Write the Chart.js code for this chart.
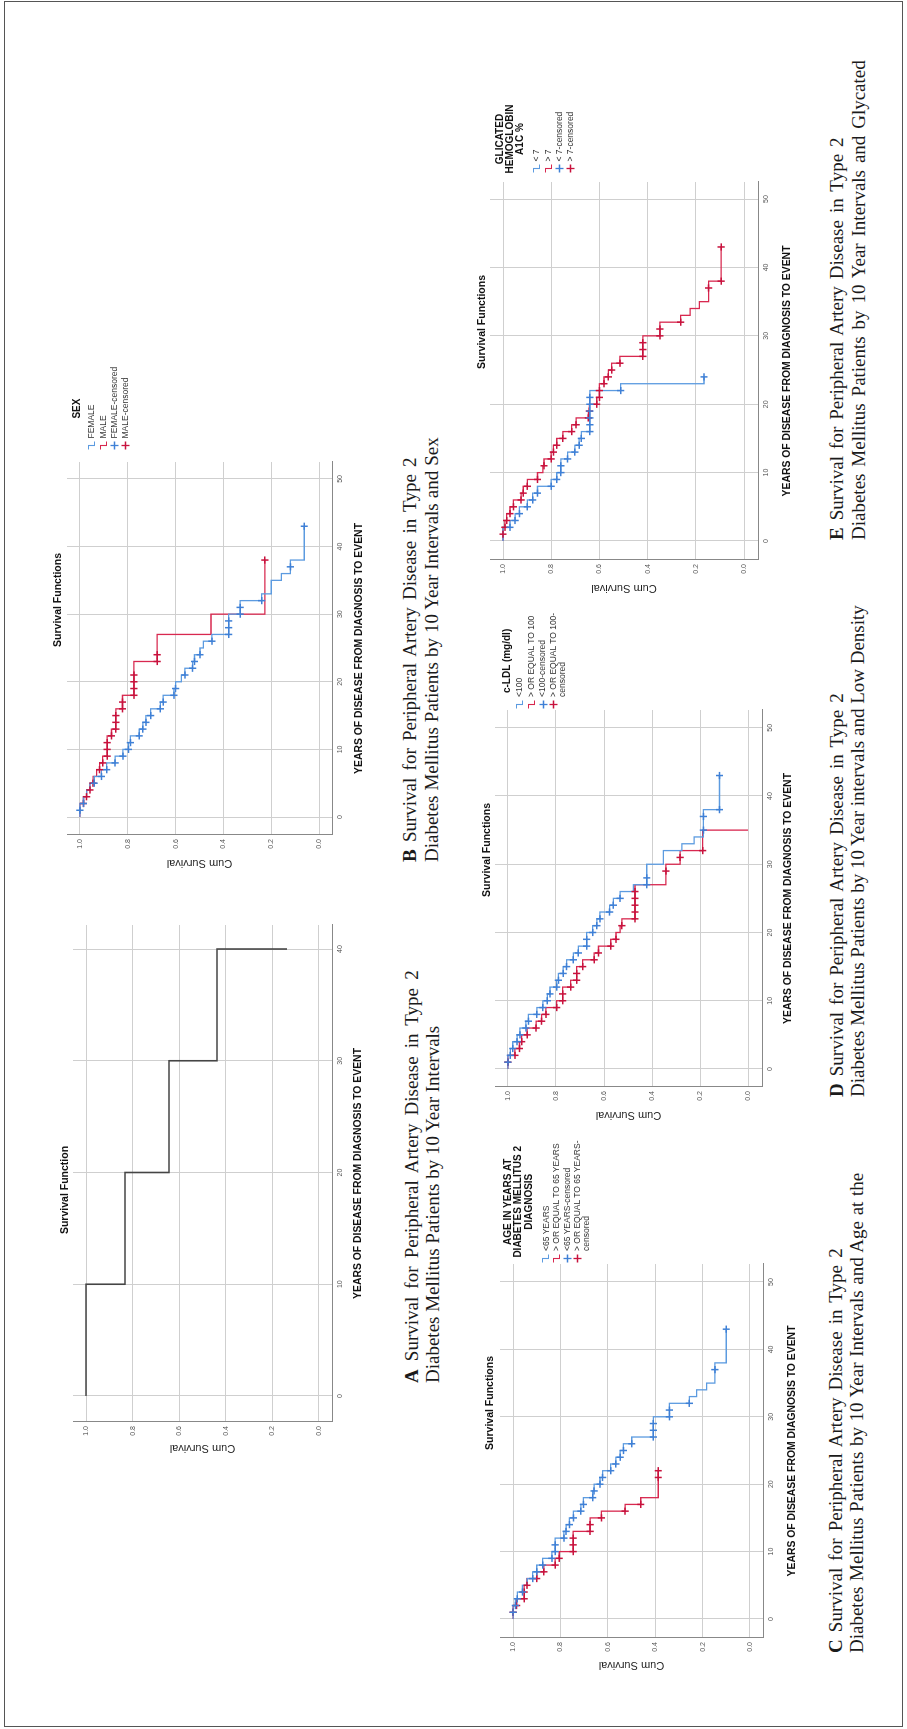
<!DOCTYPE html>
<html>
<head>
<meta charset="utf-8">
<title>Survival for Peripheral Artery Disease in Type 2 Diabetes Mellitus</title>
<script src="https://cdn.jsdelivr.net/npm/chart.js@4.4.1/dist/chart.umd.min.js"></script>
<style>
  html, body { margin: 0; padding: 0; background: #fff; }
  body { width: 907px; height: 1729px; overflow: hidden; position: relative; }
  /* the page is laid out landscape and turned a quarter to the left */
  .page {
    position: absolute; left: 0; top: 0; width: 1729px; height: 907px;
    transform-origin: 0 0; transform: translateY(1729px) rotate(-90deg);
    background: #fff;
  }
  .frame {
    position: absolute; left: 2px; top: 4px; width: 1726px; height: 899px;
    box-sizing: border-box; border: 1.5px solid #555;
  }
  .page canvas { position: absolute; }
  .legend {
    position: absolute; display: inline-block;
    font-family: "Liberation Sans", Arial, sans-serif; color: #333;
  }
  .legend-title { font-weight: bold; font-size: 10px; line-height: 10.5px; text-align: center; color: #111; white-space: nowrap; }
  .legend-row { display: flex; align-items: flex-start; font-size: 8.5px; white-space: nowrap; }
  .legend-row svg { flex: none; margin-right: 3px; }
  .caption {
    position: absolute; white-space: nowrap;
    font: 19px/22px "Liberation Serif", "Times New Roman", serif; color: #1b1b1b;
  }
</style>
</head>
<body>
<div class="page" id="page"><div class="frame"></div></div>

<script>
// ---------- data ----------
const yearTicks = [0, 10, 20, 30, 40, 50];
const yearTicksAll = [0, 10, 20, 30, 40];
const survTicks = [0, 0.2, 0.4, 0.6, 0.8, 1.0];

// A: all patients
const allTimes = [0, 10, 20, 30, 40];
const allSurv = [1, 0.833, 0.644, 0.438, 0.137];

// B: sex
const femaleTimes = [0, 2, 3, 4, 5, 6, 7, 8, 9, 10, 11, 12, 13, 14, 15, 16, 17, 18, 19, 20, 21, 22, 23, 24, 25, 26, 27, 30, 32, 33, 35, 36, 38, 43];
const femaleSurv = [1, 0.985, 0.972, 0.958, 0.94, 0.91, 0.888, 0.853, 0.82, 0.797, 0.789, 0.752, 0.737, 0.724, 0.704, 0.664, 0.652, 0.607, 0.6, 0.576, 0.561, 0.529, 0.521, 0.498, 0.484, 0.448, 0.378, 0.33, 0.24, 0.2, 0.158, 0.12, 0.062, 0.062];
const femaleCensored = [1, 2, 5, 6, 7, 8, 9, 10, 11, 12, 13, 14, 15, 16, 17, 18, 19, 21, 22, 23, 24, 26, 27, 28, 29, 30, 31, 32, 37, 43];
const maleTimes = [0, 2, 3, 4, 5, 6, 7, 8, 9, 12, 13, 16, 18, 23, 27, 30, 38];
const maleSurv = [1, 0.985, 0.972, 0.958, 0.945, 0.93, 0.918, 0.905, 0.886, 0.868, 0.85, 0.822, 0.774, 0.677, 0.452, 0.227, 0.227];
const maleCensored = [2, 3, 4, 5, 7, 8, 9, 10, 11, 12, 13, 14, 15, 16, 17, 18, 19, 20, 21, 23, 24, 38];

// C: age at diagnosis
const under65Times = [0, 2, 3, 4, 5, 6, 7, 8, 9, 10, 12, 13, 14, 15, 16, 17, 18, 19, 20, 21, 22, 23, 24, 25, 26, 27, 30, 32, 33, 34, 35, 38, 43];
const under65Surv = [1, 0.99, 0.982, 0.96, 0.94, 0.917, 0.9, 0.875, 0.836, 0.822, 0.785, 0.776, 0.762, 0.745, 0.714, 0.703, 0.664, 0.658, 0.633, 0.622, 0.588, 0.566, 0.548, 0.534, 0.499, 0.408, 0.34, 0.256, 0.225, 0.183, 0.148, 0.1, 0.1];
const under65Censored = [1, 2, 3, 4, 6, 7, 8, 9, 10, 11, 12, 13, 14, 15, 16, 17, 18, 19, 20, 21, 22, 23, 24, 25, 26, 27, 28, 29, 30, 31, 32, 37, 43];
const over65Times = [0, 2, 3, 5, 6, 7, 8, 9, 10, 13, 15, 16, 17, 18, 22];
const over65Surv = [1, 0.985, 0.953, 0.941, 0.9, 0.87, 0.822, 0.805, 0.746, 0.675, 0.627, 0.527, 0.461, 0.387, 0.387];
const over65Censored = [1, 2, 3, 4, 5, 6, 7, 8, 9, 10, 11, 12, 13, 14, 15, 16, 17, 21, 22];

// D: c-LDL
const ldlLowTimes = [0, 2, 3, 4, 5, 6, 7, 8, 9, 10, 11, 12, 13, 14, 15, 16, 17, 18, 20, 21, 22, 23, 24, 25, 26, 27, 30, 32, 33, 34, 38, 43];
const ldlLowSurv = [1, 0.99, 0.98, 0.962, 0.95, 0.925, 0.915, 0.88, 0.855, 0.836, 0.825, 0.797, 0.79, 0.77, 0.756, 0.728, 0.707, 0.672, 0.647, 0.63, 0.617, 0.577, 0.561, 0.533, 0.478, 0.422, 0.353, 0.276, 0.225, 0.186, 0.119, 0.119];
const ldlLowCensored = [1, 2, 3, 4, 5, 6, 7, 8, 9, 10, 11, 12, 13, 14, 15, 16, 17, 18, 19, 20, 21, 22, 23, 24, 25, 27, 28, 35, 37, 38, 43];
const ldlHighTimes = [0, 2, 3, 4, 5, 6, 7, 8, 9, 10, 12, 13, 15, 16, 17, 18, 19, 20, 21, 22, 27, 30, 32, 35];
const ldlHighSurv = [1, 0.971, 0.952, 0.943, 0.92, 0.883, 0.86, 0.842, 0.797, 0.772, 0.739, 0.714, 0.689, 0.641, 0.623, 0.572, 0.55, 0.533, 0.526, 0.471, 0.342, 0.283, 0.189, 0];
const ldlHighCensored = [1, 2, 3, 4, 5, 6, 7, 8, 9, 10, 11, 12, 13, 14, 15, 16, 17, 18, 19, 21, 22, 23, 24, 25, 26, 29, 31, 32];

// E: glycated hemoglobin
const a1cLowTimes = [0, 2, 3, 4, 5, 6, 7, 8, 9, 10, 12, 13, 14, 15, 16, 22, 23, 24];
const a1cLowSurv = [1, 0.971, 0.95, 0.932, 0.899, 0.877, 0.857, 0.8, 0.777, 0.76, 0.732, 0.702, 0.684, 0.675, 0.64, 0.512, 0.166, 0.166];
const a1cLowCensored = [2, 3, 4, 5, 6, 7, 8, 9, 10, 11, 12, 13, 14, 15, 16, 17, 18, 19, 20, 21, 22, 24];
const a1cHighTimes = [0, 2, 3, 4, 5, 6, 7, 8, 9, 10, 11, 12, 13, 14, 15, 16, 17, 18, 19, 20, 21, 23, 24, 25, 26, 27, 30, 32, 33, 34, 35, 38, 43];
const a1cHighSurv = [1, 0.992, 0.985, 0.971, 0.957, 0.925, 0.916, 0.899, 0.857, 0.835, 0.83, 0.8, 0.791, 0.777, 0.752, 0.715, 0.697, 0.646, 0.642, 0.611, 0.6, 0.581, 0.563, 0.549, 0.515, 0.42, 0.349, 0.263, 0.224, 0.185, 0.147, 0.095, 0.095];
const a1cHighCensored = [1, 2, 3, 4, 5, 6, 7, 8, 9, 11, 12, 13, 14, 15, 16, 17, 18, 19, 20, 21, 22, 23, 24, 25, 26, 27, 28, 29, 30, 31, 32, 37, 38, 43];

// ---------- styling ----------
const BLUE = "#5c9be0";
const BLUE_MARK = "#3f80d6";
const RED = "#d8284f";
const RED_MARK = "#c8123d";
const BLACK_LINE = "#454545";
const GRID = "#cfcfcf";
const AXIS = "#888888";

Chart.defaults.font.family = '"Liberation Sans", Arial, sans-serif';
Chart.defaults.color = "#333";

document.addEventListener("DOMContentLoaded", () => {
  const page = document.getElementById("page");
  buildPanels(page);
  buildLegends(page);
  buildCaptions(page);
});

// Kaplan-Meier helpers
function stepPoints(times, surv) {
  return times.map((t, i) => ({ x: t, y: surv[i] }));
}

function survivalAt(times, surv, t) {
  let s = surv[0];
  times.forEach((time, i) => {
    if (time <= t) s = surv[i];
  });
  return s;
}

function kmLine(times, surv, color, width) {
  return {
    type: "line",
    order: 1,
    data: stepPoints(times, surv),
    borderColor: color,
    borderWidth: width || 1.3,
    pointRadius: 0,
    stepped: "before",
    fill: false,
    tension: 0,
  };
}

function censorMarks(censored, times, surv, color) {
  return {
    type: "scatter",
    order: 0,
    data: censored.map((t) => ({ x: t, y: survivalAt(times, surv, t) })),
    borderColor: color,
    backgroundColor: color,
    pointStyle: "cross",
    pointRadius: 3.6,
    pointBorderWidth: 1.5,
    showLine: false,
  };
}

function buildPanels(page) {
  const panels = [
    {
      box: { x: 272, y: 55, w: 534, h: 311 }, yAxisW: 35, xAxisH: 34, spacerW: 2, titleGap: 1.7, yTitlePad: 2.4,
      xMin: -2.33, xMax: 42.15, yMin: -0.056, yMax: 1.056, xTicks: yearTicksAll, title: "Survival Function",
      datasets: [kmLine(allTimes, allSurv, BLACK_LINE, 1.6)],
    },
    {
      box: { x: 856, y: 48, w: 546, h: 319 }, yAxisW: 38, xAxisH: 35, spacerW: 135, titleGap: 2.7, yTitlePad: 3.4,
      xMin: -2.66, xMax: 52.5, yMin: -0.054, yMax: 1.054, xTicks: yearTicks, title: "Survival Functions",
      datasets: [
        censorMarks(femaleCensored, femaleTimes, femaleSurv, BLUE_MARK),
        censorMarks(maleCensored, maleTimes, maleSurv, RED_MARK),
        kmLine(femaleTimes, femaleSurv, BLUE),
        kmLine(maleTimes, maleSurv, RED),
      ],
    },
    {
      box: { x: 54, y: 480, w: 544, h: 320 }, yAxisW: 37, xAxisH: 37, spacerW: 133, titleGap: 3.7, yTitlePad: 3.4,
      xMin: -2.82, xMax: 52.67, yMin: -0.055, yMax: 1.055, xTicks: yearTicks, title: "Survival Functions",
      datasets: [
        censorMarks(under65Censored, under65Times, under65Surv, BLUE_MARK),
        censorMarks(over65Censored, over65Times, over65Surv, RED_MARK),
        kmLine(under65Times, under65Surv, BLUE),
        kmLine(over65Times, over65Surv, RED),
      ],
    },
    {
      box: { x: 604, y: 477, w: 550, h: 319 }, yAxisW: 38, xAxisH: 34, spacerW: 135, titleGap: 1.7, yTitlePad: 3.4,
      xMin: -2.64, xMax: 52.6, yMin: -0.058, yMax: 1.054, xTicks: yearTicks, title: "Survival Functions",
      datasets: [
        censorMarks(ldlLowCensored, ldlLowTimes, ldlLowSurv, BLUE_MARK),
        censorMarks(ldlHighCensored, ldlHighTimes, ldlHighSurv, RED_MARK),
        kmLine(ldlLowTimes, ldlLowSurv, BLUE),
        kmLine(ldlHighTimes, ldlHighSurv, RED),
      ],
    },
    {
      box: { x: 1131, y: 472, w: 552, h: 323 }, yAxisW: 38, xAxisH: 37, spacerW: 136, titleGap: 1.7, yTitlePad: 3.4,
      xMin: -2.78, xMax: 52.5, yMin: -0.058, yMax: 1.054, xTicks: yearTicks, title: "Survival Functions",
      datasets: [
        censorMarks(a1cLowCensored, a1cLowTimes, a1cLowSurv, BLUE_MARK),
        censorMarks(a1cHighCensored, a1cHighTimes, a1cHighSurv, RED_MARK),
        kmLine(a1cLowTimes, a1cLowSurv, BLUE),
        kmLine(a1cHighTimes, a1cHighSurv, RED),
      ],
    },
  ];

  panels.forEach((p) => {
    const canvas = document.createElement("canvas");
    canvas.width = p.box.w;
    canvas.height = p.box.h;
    canvas.style.left = p.box.x + "px";
    canvas.style.top = p.box.y + "px";
    canvas.style.width = p.box.w + "px";
    canvas.style.height = p.box.h + "px";
    page.appendChild(canvas);

    new Chart(canvas, {
      type: "line",
      data: { datasets: p.datasets },
      options: {
        responsive: false,
        animation: false,
        devicePixelRatio: 1,
        events: [],
        layout: { padding: 0 },
        plugins: {
          legend: { display: false },
          tooltip: { enabled: false },
          title: {
            display: true,
            text: p.title,
            color: "#111",
            font: { size: 10.5, weight: "bold" },
            padding: { top: 3.7, bottom: p.titleGap },
          },
        },
        scales: {
          x: {
            type: "linear",
            min: p.xMin,
            max: p.xMax,
            afterBuildTicks: (axis) => { axis.ticks = p.xTicks.map((v) => ({ value: v })); },
            afterFit: (axis) => { axis.height = p.xAxisH; },
            grid: { color: GRID, lineWidth: 1, drawTicks: false },
            border: { color: AXIS, width: 1 },
            ticks: { autoSkip: false, maxRotation: 0, padding: 3.5, font: { size: 7 }, color: "#555" },
            title: {
              display: true,
              text: "YEARS OF DISEASE FROM DIAGNOSIS TO EVENT",
              color: "#111",
              font: { size: 10.4, weight: "bold" },
              padding: { top: 0, bottom: 2 },
            },
          },
          y: {
            type: "linear",
            position: "left",
            min: p.yMin,
            max: p.yMax,
            afterBuildTicks: (axis) => { axis.ticks = survTicks.map((v) => ({ value: v })); },
            afterFit: (axis) => { axis.width = p.yAxisW; },
            grid: { color: GRID, lineWidth: 1, drawTicks: false },
            border: { color: AXIS, width: 1 },
            ticks: { padding: 4, font: { size: 7 }, color: "#555", callback: (v) => v.toFixed(1) },
            title: {
              display: true,
              text: "Cum Survival",
              color: "#222",
              font: { size: 11 },
              padding: { top: p.yTitlePad, bottom: 0 },
            },
          },
          // empty box on the right that keeps room for the legend
          spacer: {
            type: "linear",
            position: "right",
            afterFit: (axis) => { axis.width = p.spacerW; },
            grid: { display: false, drawTicks: false },
            border: { display: false },
            ticks: { display: false },
          },
        },
      },
    });
  });
}

function glyph(kind, color) {
  const path = kind === "line" ? "M0.5 1.5 H4.5 V7.5 H8.5" : "M4.5 0.5 V8.5 M0.5 4.5 H8.5";
  const width = kind === "line" ? 1.1 : 1.3;
  return '<svg width="9" height="9" viewBox="0 0 9 9"><path d="' + path + '" fill="none" stroke="' + color +
    '" stroke-width="' + width + '"/></svg>';
}

function buildLegends(page) {
  const legends = [
    {
      x: 1278.5, top: 71.75, gap: 4.1, rowH: 11.3, title: ["SEX"],
      items: [["FEMALE"], ["MALE"], ["FEMALE-censored"], ["MALE-censored"]],
    },
    {
      x: 466, top: 502.75, gap: 6.35, rowH: 10.8, title: ["AGE IN YEARS AT", "DIABETES MELLITUS 2", "DIAGNOSIS"],
      items: [["<65 YEARS"], ["> OR EQUAL TO 65 YEARS"], ["<65 YEARS-censored"], ["> OR EQUAL TO 65 YEARS-", "censored"]],
    },
    {
      x: 1020, top: 501.75, gap: 1.95, rowH: 11.6, title: ["c-LDL (mg/dl)"],
      items: [["<100"], ["> OR EQUAL TO 100"], ["<100-censored"], ["> OR EQUAL TO 100-", "censored"]],
    },
    {
      x: 1555.5, top: 495, gap: 6.35, rowH: 11.3, titleLH: 10, title: ["GLICATED", "HEMOGLOBIN", "A1C %"],
      items: [["< 7"], ["> 7"], ["< 7-censored"], ["> 7-censored"]],
    },
  ];
  const kinds = [["line", BLUE], ["line", RED], ["cross", BLUE_MARK], ["cross", RED_MARK]];

  legends.forEach((lg) => {
    const box = document.createElement("div");
    box.className = "legend";
    box.style.left = lg.x + "px";
    box.style.top = lg.top + "px";

    const title = document.createElement("div");
    title.className = "legend-title";
    if (lg.titleLH) title.style.lineHeight = lg.titleLH + "px";
    title.innerHTML = lg.title.join("<br>");
    box.appendChild(title);

    lg.items.forEach((lines, i) => {
      const row = document.createElement("div");
      row.className = "legend-row";
      row.style.lineHeight = (lines.length > 1 ? 9.5 : lg.rowH) + "px";
      if (i === 0) row.style.marginTop = lg.gap + "px";
      const [kind, color] = kinds[i];
      row.innerHTML = glyph(kind, color);
      row.firstChild.style.marginTop = ((lines.length > 1 ? 9.5 : lg.rowH) - 9) / 2 + "px";
      const label = document.createElement("span");
      label.innerHTML = lines.join("<br>");
      row.appendChild(label);
      box.appendChild(row);
    });
    page.appendChild(box);
  });
}

function buildCaptions(page) {
  const captions = [
    { letter: "A", x: 346, tops: [401, 422], widths: [413, 0],
      lines: ["Survival for Peripheral Artery Disease in Type 2", "Diabetes Mellitus Patients by 10 Year Intervals"] },
    { letter: "B", x: 867, tops: [399, 421], widths: [405, 425],
      lines: ["Survival for Peripheral Artery Disease in Type 2", "Diabetes Mellitus Patients by 10 Year Intervals and Sex"] },
    { letter: "C", x: 76, tops: [825, 846], widths: [405, 480],
      lines: ["Survival for Peripheral Artery Disease in Type 2", "Diabetes Mellitus Patients by 10 Year Intervals and Age at the"] },
    { letter: "D", x: 632, tops: [826, 847], widths: [404, 480],
      lines: ["Survival for Peripheral Artery Disease in Type 2", "Diabetes Mellitus Patients by 10 Year intervals and Low Density"] },
    { letter: "E", x: 1189, tops: [826, 848], widths: [403, 480],
      lines: ["Survival for Peripheral Artery Disease in Type 2", "Diabetes Mellitus Patients by 10 Year Intervals and Glycated"] },
  ];

  captions.forEach((cap) => {
    cap.lines.forEach((text, i) => {
      const line = document.createElement("div");
      line.className = "caption";
      line.style.left = cap.x + "px";
      line.style.top = cap.tops[i] + "px";
      if (i === 0) {
        const b = document.createElement("b");
        b.textContent = cap.letter;
        line.appendChild(b);
        line.appendChild(document.createTextNode(" " + text));
      } else {
        line.textContent = text;
      }
      page.appendChild(line);

      // stretch the spaces so the line fills its measured width
      const target = cap.widths[i];
      if (target) {
        const gaps = (line.textContent.match(/ /g) || []).length;
        const extra = (target - line.offsetWidth) / gaps;
        if (extra > 0) line.style.wordSpacing = extra + "px";
      }
    });
  });
}
</script>
</body>
</html>
